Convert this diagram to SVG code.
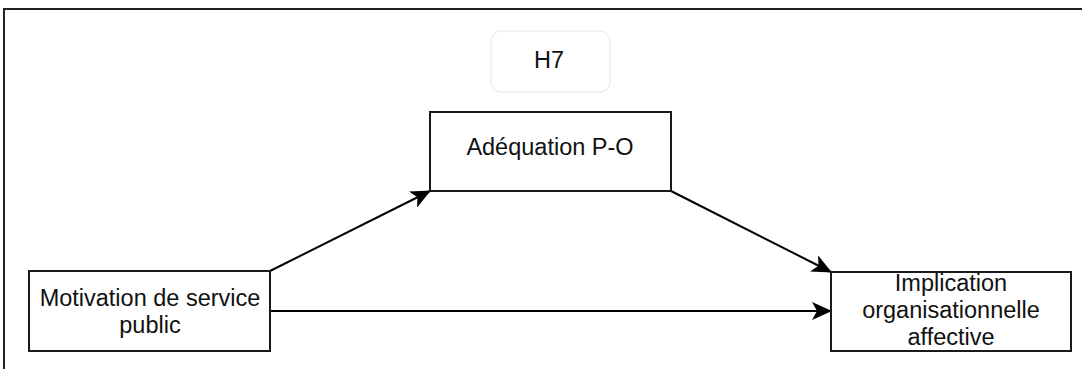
<svg xmlns="http://www.w3.org/2000/svg" width="1082" height="369" viewBox="0 0 1082 369">
  <style>
    .box { fill: #ffffff; stroke: #1a1a1a; stroke-width: 2; }
    .lbl { font-family: "Liberation Sans", Arial, Helvetica, sans-serif; font-size: 23.5px; fill: #111111; text-anchor: middle; }
    .edge { fill: none; stroke: #000000; stroke-width: 2; }
  </style>
  <defs>
    <marker id="arrow" markerUnits="userSpaceOnUse" markerWidth="20" markerHeight="18" viewBox="0 0 20 18" refX="19" refY="9" orient="auto">
      <path d="M0,0 L20,9 L0,18 L5,9 Z" fill="#000000"/>
    </marker>
  </defs>
  <rect width="1082" height="369" fill="#ffffff"/>
  <g id="frame">
    <path d="M4,369 L4,9 L1082,9" fill="none" stroke="#222222" stroke-width="2"/>
  </g>
  <g id="connectors">
    <line class="edge" x1="270" y1="271" x2="430" y2="191" marker-end="url(#arrow)"/>
    <line class="edge" x1="671" y1="191" x2="831" y2="272" marker-end="url(#arrow)"/>
    <line class="edge" x1="270" y1="311" x2="831" y2="311" marker-end="url(#arrow)"/>
  </g>
  <g id="node-h7">
    <rect x="491" y="31" width="119" height="61" rx="10" ry="10" fill="#ffffff" stroke="#e6e6e6" stroke-width="1"/>
    <text class="lbl" x="549" y="68">H7</text>
  </g>
  <g id="node-adequation">
    <rect class="box" x="430" y="112" width="241" height="79"/>
    <text class="lbl" x="550" y="155">Adéquation P-O</text>
  </g>
  <g id="node-motivation">
    <rect class="box" x="29" y="271" width="241" height="80"/>
    <text class="lbl" x="150" y="306">Motivation de service</text>
    <text class="lbl" x="150" y="333">public</text>
  </g>
  <g id="node-implication">
    <rect class="box" x="831" y="272" width="240" height="79"/>
    <text class="lbl" x="951" y="291">Implication</text>
    <text class="lbl" x="951" y="318">organisationnelle</text>
    <text class="lbl" x="951" y="345">affective</text>
  </g>
</svg>
